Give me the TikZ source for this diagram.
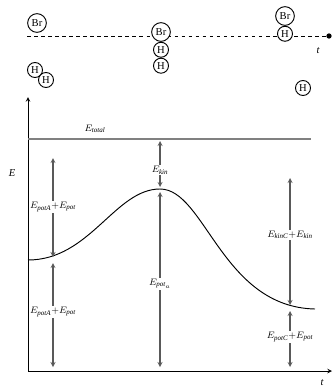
\documentclass[tikz,border=0pt]{standalone}
\usepackage{amsmath}
\usepackage{fontspec}
\setmainfont{Liberation Serif}
\usetikzlibrary{arrows, positioning, calc}

\begin{document}
\begin{tikzpicture}[
    x=0.03cm, y=-0.03cm,
    bratom/.style={circle, draw, thick, fill=white, inner sep=0pt, minimum size=0.56cm, font=\small},
    hatom/.style={circle, draw, thick, fill=white, inner sep=0pt, minimum size=0.45cm, font=\small},
    level/.style={draw=gray, line width=1.3pt},
    axis/.style={->, >=stealth, thick},
    arrow/.style={->, >=stealth, draw=gray!70!black, line width=0.9pt},
    elabel/.style={font=\footnotesize, inner sep=1pt}
]
\useasboundingbox (0,0) rectangle (333,389);

% reaction snapshots along t
\coordinate (dstart) at (27,36);
\node[circle, fill, inner sep=1.6pt] (dend) at (329,36) {};
\draw[dashed, thick] (dstart) -- (dend);
\node[font=\small\itshape] (tlabel) at (318,51) {t};

\node[bratom] (brA) at (37,23) {Br};
\node[hatom] (hA1) at (35,70) {H};
\node[hatom] (hA2) at (46,80) {H};

\node[bratom] (brB) at (161,32) {Br};
\node[hatom, below=0pt of brB] (hB1) {H};
\node[hatom, below=0pt of hB1] (hB2) {H};

\node[bratom] (brC) at (285,16) {Br};
\node[hatom, below=0pt of brC] (hC1) {H};
\node[hatom] (hC2) at (303,88) {H};

% energy axes
\coordinate (orig) at (28,371);
\coordinate (ytop) at (28,97);
\coordinate (xend) at (332,371);
\draw[axis] (orig) -- (ytop);
\draw[axis] (orig) -- (xend);
\node[font=\small\itshape] (elab) at (12,173) {E};
\node[font=\small\itshape] (tax) at (322,383) {t};

% total energy
\coordinate (tot0) at (28,139);
\coordinate (tot1) at (311,139);
\draw[level] (tot0) -- (tot1);
\node[elabel] (etot) at (95,129) {$E_{\mathit{total}}$};

% potential curve
\draw[thick] (28,260) .. controls (90,260) and (115,189) .. (160,189)
    .. controls (205,189) and (222,307) .. (315,309);

% left (reactants)
\node[elabel] (kinA) at (53,207) {$E_{\mathit{potA}}{+}E_{\mathit{pot}}$};
\node[elabel] (potA) at (53,312) {$E_{\mathit{potA}}{+}E_{\mathit{pot}}$};
\coordinate (kinAtop) at (53,158);
\coordinate (kinAbot) at (53,257);
\coordinate (potAtop) at (53,263);
\coordinate (potAbot) at (53,367);
\draw[arrow] (kinA) -- (kinAtop);
\draw[arrow] (kinA) -- (kinAbot);
\draw[arrow] (potA) -- (potAtop);
\draw[arrow] (potA) -- (potAbot);

% middle (transition state)
\node[elabel] (kinB) at (160,170) {$E_{\mathit{kin}}$};
\node[elabel] (potB) at (160,284) {$E_{\mathit{pot}_{a}}$};
\coordinate (kinBtop) at (160,141);
\coordinate (kinBbot) at (160,187);
\coordinate (potBtop) at (160,192);
\coordinate (potBbot) at (160,367);
\draw[arrow] (kinB) -- (kinBtop);
\draw[arrow] (kinB) -- (kinBbot);
\draw[arrow] (potB) -- (potBtop);
\draw[arrow] (potB) -- (potBbot);

% right (products)
\node[elabel] (kinC) at (290,235) {$E_{\mathit{kinC}}{+}E_{\mathit{kin}}$};
\node[elabel] (potC) at (290,337) {$E_{\mathit{potC}}{+}E_{\mathit{pot}}$};
\coordinate (kinCtop) at (290,178);
\coordinate (kinCbot) at (290,305);
\coordinate (potCtop) at (290,311);
\coordinate (potCbot) at (290,367);
\draw[arrow] (kinC) -- (kinCtop);
\draw[arrow] (kinC) -- (kinCbot);
\draw[arrow] (potC) -- (potCtop);
\draw[arrow] (potC) -- (potCbot);

\end{tikzpicture}
\end{document}
